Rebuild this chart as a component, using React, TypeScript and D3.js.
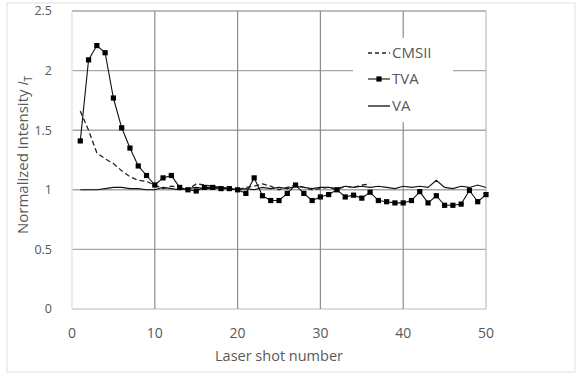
import React from "react";
import * as d3 from "d3";

// laser shot numbers
const shots = d3.range(1, 51);
const cmsiiShots = d3.range(1, 37);

const yTicks = [0, 0.5, 1, 1.5, 2, 2.5];
const xTicks = [0, 10, 20, 30, 40, 50];

const tva = [
  1.41, 2.09, 2.21, 2.15, 1.77, 1.52, 1.35, 1.2, 1.12, 1.04,
  1.1, 1.12, 1.02, 1.0, 0.99, 1.02, 1.02, 1.01, 1.01, 1.0,
  0.97, 1.1, 0.95, 0.91, 0.91, 0.97, 1.04, 0.97, 0.91, 0.94,
  0.96, 1.0, 0.94, 0.955, 0.93, 0.98, 0.91, 0.9, 0.89, 0.89,
  0.91, 0.985, 0.89, 0.95, 0.87, 0.87, 0.88, 0.995, 0.9, 0.96,
];

const va = [
  1.0, 1.0, 1.0, 1.01, 1.02, 1.02, 1.01, 1.01, 1.0, 1.0,
  1.02, 1.01, 1.0, 1.01, 1.02, 1.01, 1.01, 1.02, 1.01, 1.0,
  1.01, 1.0, 1.02, 1.01, 1.02, 1.01, 1.03, 1.02, 1.01, 1.02,
  1.02, 1.01, 1.03, 1.02, 1.03, 1.02, 1.03, 1.02, 1.01, 1.03,
  1.02, 1.03, 1.02, 1.08, 1.02, 1.01, 1.03, 1.02, 1.04, 1.02,
];

const cmsii = [
  1.66, 1.5, 1.31, 1.26, 1.22, 1.16, 1.11, 1.08, 1.07, 1.04,
  1.01, 1.03, 1.02, 1.0, 1.05, 1.04, 1.03, 1.02, 1.01, 1.0,
  1.02, 1.03, 1.05, 1.03, 1.0, 1.02, 1.04, 1.02, 1.0, 1.01,
  1.02, 1.0, 1.03, 1.02, 1.04, 1.05,
];

const W = 584;
const H = 382;
const margin = { left: 72, right: 98, top: 11, bottom: 73 };
const font = "'Open Sans', 'Liberation Sans', sans-serif";
const textColor = "#595959";

export default function App() {
  const x = d3.scaleLinear().domain([0, 50]).range([margin.left, W - margin.right]);
  const y = d3.scaleLinear().domain([0, 2.5]).range([H - margin.bottom, margin.top]);

  const line = d3
    .line<number>()
    .x((d, i) => x(shots[i]))
    .y((d) => y(d));
  const cmsLine = d3
    .line<number>()
    .x((d, i) => x(cmsiiShots[i]))
    .y((d) => y(d));

  // legend box
  const lx = 353;
  const ly = 38;

  return (
    <svg
      width={W}
      height={H}
      style={{ position: "absolute", left: 0, top: 0, background: "#fff" }}
      fontFamily={font}
    >
      <rect x={7} y={3} width={568} height={369} fill="#fff" stroke="#e0e0e0" />

      {/* gridlines */}
      {yTicks.map((t) => (
        <line
          key={"gy" + t}
          x1={x(0)}
          x2={x(50)}
          y1={y(t)}
          y2={y(t)}
          stroke={t === 0 ? "#d0d0d0" : "#a6a6a6"}
          strokeWidth={1.4}
        />
      ))}
      {xTicks.map((t) => (
        <line
          key={"gx" + t}
          x1={x(t)}
          x2={x(t)}
          y1={y(0)}
          y2={y(2.5)}
          stroke={t === 0 ? "#e0e0e0" : t === 50 ? "#bdbdbd" : "#8c8c8c"}
          strokeWidth={1.2}
        />
      ))}

      {/* legend background */}
      <rect x={lx} y={ly} width={100} height={84} fill="#fff" />

      {/* series */}
      <path d={line(va) ?? ""} fill="none" stroke="#111" strokeWidth={1.1} />
      <path
        d={cmsLine(cmsii) ?? ""}
        fill="none"
        stroke="#222"
        strokeWidth={1.3}
        strokeDasharray="5,3"
      />
      <path d={line(tva) ?? ""} fill="none" stroke="#111" strokeWidth={1.1} />
      {tva.map((v, i) => (
        <rect
          key={"m" + i}
          x={x(shots[i]) - 2.6}
          y={y(v) - 2.6}
          width={5.2}
          height={5.2}
          fill="#000"
        />
      ))}

      {/* legend */}
      <g fontSize={15} fill={textColor}>
        <line x1={lx + 15} x2={lx + 37} y1={ly + 15} y2={ly + 15} stroke="#222" strokeWidth={1.3} strokeDasharray="4,3" />
        <text x={lx + 39} y={ly + 15} dy="0.35em">CMSII</text>
        <line x1={lx + 15} x2={lx + 37} y1={ly + 41} y2={ly + 41} stroke="#111" strokeWidth={1.1} />
        <rect x={lx + 23.4} y={ly + 38.4} width={5.2} height={5.2} fill="#000" />
        <text x={lx + 39} y={ly + 41} dy="0.35em">TVA</text>
        <line x1={lx + 15} x2={lx + 37} y1={ly + 68} y2={ly + 68} stroke="#111" strokeWidth={1.3} />
        <text x={lx + 39} y={ly + 68} dy="0.35em">VA</text>
      </g>

      {/* y tick labels */}
      <g fontSize={12.5} fill={textColor} textAnchor="end">
        {yTicks.map((t) => (
          <text key={"ty" + t} x={x(0) - 20} y={y(t)} dy="0.35em">
            {t}
          </text>
        ))}
      </g>
      {/* x tick labels */}
      <g fontSize={14} fill={textColor} textAnchor="middle">
        {xTicks.map((t) => (
          <text key={"tx" + t} x={x(t)} y={y(0) + 24} dy="0.35em">
            {t}
          </text>
        ))}
      </g>

      <text
        x={(x(0) + x(50)) / 2}
        y={356}
        dy="0.35em"
        fontSize={14.5}
        fill={textColor}
        textAnchor="middle"
      >
        Laser shot number
      </text>
      <text
        transform={`translate(23,155) rotate(-90)`}
        fontSize={15}
        fill={textColor}
        textAnchor="middle"
        dy="0.35em"
      >
        Normalized intensity <tspan fontStyle="italic">I</tspan>
        <tspan fontSize={10} dy="4">T</tspan>
      </text>
    </svg>
  );
}
